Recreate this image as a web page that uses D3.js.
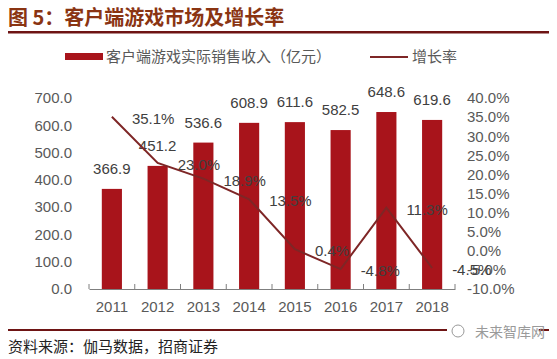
<!DOCTYPE html>
<html><head><meta charset="utf-8">
<script src="https://cdn.jsdelivr.net/npm/d3@7"></script>
<style>
body{margin:0;background:#fff;}
svg{display:block;}
</style></head>
<body>
<svg id="c" width="557" height="359"></svg>
<script>
const years = ["2011","2012","2013","2014","2015","2016","2017","2018"];
const revenue = [366.9, 451.2, 536.6, 608.9, 611.6, 582.5, 648.6, 619.6];
const growth = [35.1, 23.0, 18.9, 13.5, 0.4, -4.8, 11.3, -4.5];
const leftTicks = [0, 100, 200, 300, 400, 500, 600, 700];
const rightTicks = [-10, -5, 0, 5, 10, 15, 20, 25, 30, 35, 40];

const svg = d3.select("#c");
const numFont = "'Liberation Sans', Arial, sans-serif";
const cjkFont = "'Noto Sans CJK SC', sans-serif";
const barColor = "#A8141B";
const lineColor = "#7E2626";
const axisGrey = "#595959";

// Title
svg.append("text").attr("x", 8).attr("y", 25)
  .attr("font-family", cjkFont).attr("font-weight", "bold").attr("font-size", 20)
  .attr("fill", "#8A3412").text("图 5：客户端游戏市场及增长率");
svg.append("rect").attr("x", 8).attr("y", 31).attr("width", 541).attr("height", 2.5).attr("fill", "#6E1414");

// Scales
const x = d3.scaleBand().domain(years).range([89, 455]).paddingInner(0.56).paddingOuter(0.28);
const yL = d3.scaleLinear().domain([0, 700]).range([289, 98]);
const yR = d3.scaleLinear().domain([-10, 40]).range([289, 98]);

// Legend
svg.append("rect").attr("x", 65).attr("y", 53).attr("width", 38).attr("height", 7).attr("fill", barColor);
svg.append("text").attr("x", 106).attr("y", 62).attr("font-family", cjkFont).attr("font-size", 15)
  .attr("fill", axisGrey).text("客户端游戏实际销售收入（亿元）");
svg.append("line").attr("x1", 370).attr("x2", 408).attr("y1", 57).attr("y2", 57)
  .attr("stroke", lineColor).attr("stroke-width", 2);
svg.append("text").attr("x", 412).attr("y", 62).attr("font-family", cjkFont).attr("font-size", 15)
  .attr("fill", axisGrey).text("增长率");

// Bars
svg.selectAll("rect.bar").data(years).enter().append("rect").attr("class", "bar")
  .attr("x", d => x(d)).attr("width", x.bandwidth())
  .attr("y", (d, i) => yL(revenue[i])).attr("height", (d, i) => yL(0) - yL(revenue[i]))
  .attr("fill", barColor);

// X axis
const xAxis = d3.axisBottom(x).tickSizeInner(0).tickSizeOuter(0).tickPadding(12);
const gx = svg.append("g").attr("transform", "translate(0,289)").call(xAxis);
gx.select(".domain").attr("stroke", "#7f7f7f");
gx.selectAll("text").attr("font-family", numFont).attr("font-size", 15).attr("fill", axisGrey);
// inside tick marks at band boundaries
const bounds = d3.range(years.length + 1).map(i => 89 + i * (455 - 89) / years.length);
svg.append("g").selectAll("line").data(bounds).enter().append("line")
  .attr("x1", d => d).attr("x2", d => d).attr("y1", 284).attr("y2", 289)
  .attr("stroke", "#7f7f7f");

// Left axis
const gl = svg.append("g").attr("transform", "translate(74,0)")
  .call(d3.axisLeft(yL).tickValues(leftTicks).tickFormat(d3.format(".1f")).tickSize(0).tickPadding(2));
gl.select(".domain").remove();
gl.selectAll("text").attr("font-family", numFont).attr("font-size", 15).attr("fill", axisGrey);

// Right axis
const gr = svg.append("g").attr("transform", "translate(465,0)")
  .call(d3.axisRight(yR).tickValues(rightTicks).tickFormat(d => d.toFixed(1) + "%").tickSize(0).tickPadding(2));
gr.select(".domain").remove();
gr.selectAll("text").attr("font-family", numFont).attr("font-size", 15).attr("fill", axisGrey);

// Bar labels
svg.selectAll("text.bl").data(years).enter().append("text").attr("class", "bl")
  .attr("x", d => x(d) + x.bandwidth() / 2).attr("y", (d, i) => yL(revenue[i]) - 15)
  .attr("text-anchor", "middle").attr("font-family", numFont).attr("font-size", 15)
  .attr("fill", "#404040").text((d, i) => revenue[i].toFixed(1));

// Growth line
const line = d3.line().x((d, i) => x(years[i]) + x.bandwidth() / 2).y(d => yR(d));
svg.append("path").datum(growth).attr("d", line).attr("fill", "none")
  .attr("stroke", lineColor).attr("stroke-width", 2);

// Growth labels
svg.selectAll("text.gl").data(growth).enter().append("text").attr("class", "gl")
  .attr("x", (d, i) => x(years[i]) + x.bandwidth() / 2 + 20).attr("y", d => yR(d) + 7)
  .attr("font-family", numFont).attr("font-size", 15)
  .attr("fill", "#404040").text(d => d.toFixed(1) + "%");

// Footer
svg.append("rect").attr("x", 8).attr("y", 329).attr("width", 541).attr("height", 2).attr("fill", "#6E1414");
svg.append("text").attr("x", 8).attr("y", 352).attr("font-family", cjkFont).attr("font-size", 15)
  .attr("fill", "#222").text("资料来源：伽马数据，招商证券");
svg.append("rect").attr("x", 447).attr("y", 322).attr("width", 92).attr("height", 18).attr("fill", "#fff");
svg.append("circle").attr("cx", 458).attr("cy", 331).attr("r", 6).attr("fill", "none").attr("stroke", "#999").attr("stroke-width", 1);
svg.append("text").attr("x", 475).attr("y", 337).attr("font-family", cjkFont).attr("font-size", 14)
  .attr("fill", "#9a9a9a").text("未来智库网");
</script>
</body></html>
